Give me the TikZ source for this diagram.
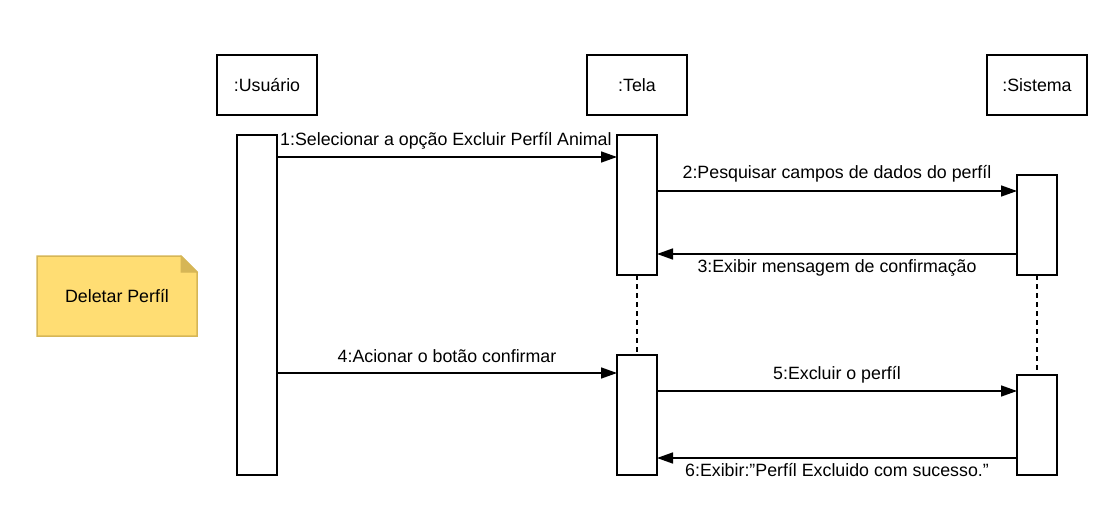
\documentclass[tikz,border=0pt]{standalone}
\usepackage{fontspec}
\setmainfont{Liberation Sans}
\usetikzlibrary{arrows.meta}
\definecolor{notefill}{HTML}{FFDD73}
\definecolor{notedraw}{HTML}{D6B656}
\tikzset{
  x=1pt,y=-1pt,
  every node/.style={font=\fontsize{17.8}{20}\selectfont},
  headbox/.style={draw,line width=1.5pt,minimum width=100pt,minimum height=60pt,inner sep=0pt},
  actbox/.style={draw,line width=1.5pt,fill=white},
  msg/.style={line width=1.5pt,-{Triangle[length=16pt,width=11pt]}},
  life/.style={line width=1.5pt,dash pattern=on 5pt off 4pt},
  lbl/.style={inner sep=1pt}
}
\begin{document}
\begin{tikzpicture}
\useasboundingbox (0,0) rectangle (1105,508);
% heads
\node[headbox] (hu) at (267,85) {:Usuário};
\node[headbox] (ht) at (637,85) {:Tela};
\node[headbox] (hs) at (1037,85) {:Sistema};
% lifeline dashes
\coordinate (t1b) at (637,275); \coordinate (t2t) at (637,355);
\coordinate (s1b) at (1037,275); \coordinate (s2t) at (1037,375);
\draw[life] (t1b) -- (t2t);
\draw[life] (s1b) -- (s2t);
% activations
\draw[actbox] (237,135) rectangle (277,475);
\draw[actbox] (617,135) rectangle (657,275);
\draw[actbox] (617,355) rectangle (657,475);
\draw[actbox] (1017,175) rectangle (1057,275);
\draw[actbox] (1017,375) rectangle (1057,475);
\coordinate (u1) at (277,157); \coordinate (t1) at (617,157);
\coordinate (t2) at (657,191); \coordinate (s2) at (1017,191);
\coordinate (s3) at (1017,254); \coordinate (t3) at (657,254);
\coordinate (u4) at (277,373); \coordinate (t4) at (617,373);
\coordinate (t5) at (657,391); \coordinate (s5) at (1017,391);
\coordinate (s6) at (1017,458); \coordinate (t6) at (657,458);
\draw[msg] (u1) -- (t1);
\draw[msg] (t2) -- (s2);
\draw[msg] (s3) -- (t3);
\draw[msg] (u4) -- (t4);
\draw[msg] (t5) -- (s5);
\draw[msg] (s6) -- (t6);
\node[lbl,anchor=west] (l1) at (279,141) {1:Selecionar a opção Excluir Perfíl Animal};
\node[lbl] (l2) at (837,174) {2:Pesquisar campos de dados do perfíl};
\node[lbl] (l3) at (837,268) {3:Exibir mensagem de confirmação};
\node[lbl] (l4) at (447,356) {4:Acionar o botão confirmar};
\node[lbl] (l5) at (837,375) {5:Excluir o perfíl};
\node[lbl] (l6) at (837,470) {6:Exibir:\char34 Perfíl Excluido com sucesso.\char34};
% note
\filldraw[fill=notefill,draw=notedraw,line width=1.5pt] (37,256) -- (181,256) -- (197,272) -- (197,336) -- (37,336) -- cycle;
\filldraw[fill=notedraw,draw=notedraw,line width=1pt] (181,256) -- (181,272) -- (197,272) -- cycle;
\node (note) at (117,296) {Deletar Perfíl};
\end{tikzpicture}
\end{document}
